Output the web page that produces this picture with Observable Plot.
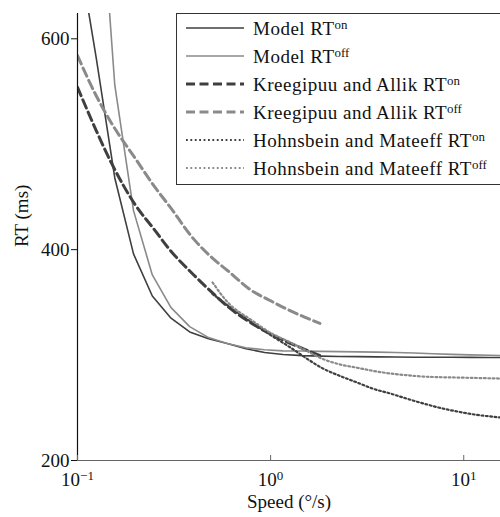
<!DOCTYPE html>
<html>
<head>
<meta charset="utf-8">
<script src="https://cdn.jsdelivr.net/npm/d3@7"></script>
<script src="https://cdn.jsdelivr.net/npm/@observablehq/plot@0.6"></script>
<style>
  body { margin: 0; background: #fff; }
  #wrap { position: relative; width: 500px; height: 517px; font-family: "Liberation Serif", "Times New Roman", "DejaVu Serif", serif; }
  #legend { position: absolute; left: 176px; top: 13px; width: 340px; height: 170px; border: 1px solid #333; background: #fff; box-sizing: content-box; }
  .row { display: flex; align-items: center; height: 28px; }
  .row svg { margin-left: 9px; flex: none; }
  .row span.t { margin-left: 9px; font-size: 19px; letter-spacing: 0.5px; color: #111; white-space: nowrap; line-height: 1; }
  .row sup { font-size: 0.68em; vertical-align: 0.5em; line-height: 0; letter-spacing: 0; }
</style>
</head>
<body>
<div id="wrap"><div id="chart"></div><div id="legend"></div></div>
<script>
// ---- data ----
const modelSpeed = [0.1, 0.125, 0.156, 0.195, 0.244, 0.305, 0.381, 0.477, 0.596, 0.745, 0.931, 1.16, 1.46, 1.82, 2.27, 2.84, 3.55, 4.44, 5.55, 6.94, 8.67, 10.8, 13.6, 17];
const modelOn  = [689, 582, 468, 396, 356, 335, 322, 315.5, 311, 306, 302.5, 300.5, 299.5, 299, 298.7, 298.5, 298.3, 298.2, 298, 298, 297.9, 297.8, 297.7, 297.6];
const modelOff = [1000, 800, 556, 437, 376, 345, 327, 316.6, 311, 307, 305, 304, 303.8, 303.5, 303.3, 303, 302.8, 302.4, 302, 301.3, 300.7, 300.2, 299.8, 299.5];

const kaSpeed = [0.1, 0.125, 0.15, 0.2, 0.25, 0.3, 0.4, 0.5, 0.6, 0.8, 1.0, 1.2, 1.5, 1.8];
const kaOn    = [554, 513, 482, 442, 419, 400, 376, 359, 346, 330, 320, 313, 305.5, 299.5];
const kaOff   = [584, 546, 520, 486, 460, 441, 410, 392, 380, 361, 351.5, 344, 336, 330];

const hmSpeed = [0.5, 0.6, 0.8, 1.0, 1.27, 1.5, 1.88, 2.3, 2.8, 3.4, 4.17, 5, 6.2, 7.5, 9.3, 12, 15.5, 16];
const hmOn    = [358, 347, 331, 319, 307, 298, 287, 280, 274, 268, 263.5, 259, 254, 250, 246.4, 243, 240.8, 240.5];
const hmOff   = [369, 350, 333, 321, 312, 305, 296, 291, 288, 285, 282.5, 281, 279.6, 279, 278.7, 278.2, 277.7, 277.6];

const xTicks = [0.1, 1, 10];
const yTicks = [200, 400, 600];

const seriesNames = ["Model RT|on", "Model RT|off", "Kreegipuu and Allik RT|on", "Kreegipuu and Allik RT|off", "Hohnsbein and Mateeff RT|on", "Hohnsbein and Mateeff RT|off"];

// ---- styles ----
const FONT = '"Liberation Serif", "Times New Roman", "DejaVu Serif", serif';
const DARK = "#3f3f3f", GRAY = "#8a8a8a";
const styles = [
  {stroke: DARK, strokeWidth: 1.6, dash: null, curve: "linear"},
  {stroke: GRAY, strokeWidth: 1.6, dash: null, curve: "linear"},
  {stroke: DARK, strokeWidth: 3, dash: "9,4.5", curve: "monotone-x"},
  {stroke: GRAY, strokeWidth: 3, dash: "9,4.5", curve: "monotone-x"},
  {stroke: DARK, strokeWidth: 2.2, dash: "1.8,2.6", curve: "monotone-x"},
  {stroke: GRAY, strokeWidth: 2.2, dash: "1.8,2.6", curve: "monotone-x"}
];

const toRows = (xs, ys) => xs.map((x, i) => ({x, y: ys[i]}));
const series = [
  toRows(modelSpeed, modelOn), toRows(modelSpeed, modelOff),
  toRows(kaSpeed, kaOn), toRows(kaSpeed, kaOff),
  toRows(hmSpeed, hmOn), toRows(hmSpeed, hmOff)
];

const lineMarks = series.map((d, i) => Plot.line(d, {
  x: "x", y: "y", stroke: styles[i].stroke, strokeWidth: styles[i].strokeWidth,
  strokeDasharray: styles[i].dash, clip: true, curve: styles[i].curve
}));

const chart = Plot.plot({
  width: 500, height: 517,
  marginLeft: 77, marginRight: 0, marginTop: 13, marginBottom: 57,
  style: {fontFamily: FONT, fontSize: "19px", color: "#111", background: "#fff"},
  x: {type: "log", domain: [0.1, 15.5]},
  y: {domain: [200, 624]},
  marks: [
    ...lineMarks,
    Plot.ruleY([yTicks[0]], {stroke: "#666", strokeWidth: 1.2}),
    Plot.ruleX([xTicks[0]], {stroke: "#111", strokeWidth: 1.2}),
    Plot.axisY({ticks: yTicks, tickSize: 6, tickPadding: 2, label: null, tickFormat: d => String(d), stroke: "#111", fontFamily: FONT}),
    Plot.axisX({ticks: xTicks, tickSize: -5, tickPadding: 17, label: null,
      tickFormat: d => "10^" + Math.round(Math.log10(d)), stroke: "#666", fontFamily: FONT}),
    Plot.text(["RT (ms)"], {frameAnchor: "left", rotate: -90, dx: -56, dy: 10, fontSize: 19, fill: "#111", fontFamily: FONT}),
    Plot.text(["Speed (°/s)"], {frameAnchor: "bottom", dy: 47, fontSize: 19, fill: "#111", fontFamily: FONT})
  ]
});
document.getElementById("chart").appendChild(chart);

// superscript exponents on x tick labels
chart.querySelectorAll('g[aria-label="x-axis tick label"] text').forEach(t => {
  const s = t.textContent;
  const m = s.match(/^10\^(-?\d+)$/);
  if (!m) return;
  t.textContent = "";
  const ns = "http://www.w3.org/2000/svg";
  const a = document.createElementNS(ns, "tspan"); a.textContent = "10";
  const b = document.createElementNS(ns, "tspan"); b.textContent = m[1].replace("-", "\u2212");
  b.setAttribute("dy", "-0.45em"); b.setAttribute("font-size", "13px");
  t.appendChild(a); t.appendChild(b);
});

// legend
const legend = document.getElementById("legend");
seriesNames.forEach((name, i) => {
  const [base, sup] = name.split("|");
  const row = document.createElement("div");
  row.className = "row";
  const st = styles[i];
  row.innerHTML = `<svg width="58" height="10"><line x1="0" x2="58" y1="5" y2="5" stroke="${st.stroke}" stroke-width="${st.strokeWidth}" ${st.dash ? `stroke-dasharray="${st.dash}"` : ""}/></svg><span class="t">${base}<sup>${sup}</sup></span>`;
  legend.appendChild(row);
});
</script>
</body>
</html>
